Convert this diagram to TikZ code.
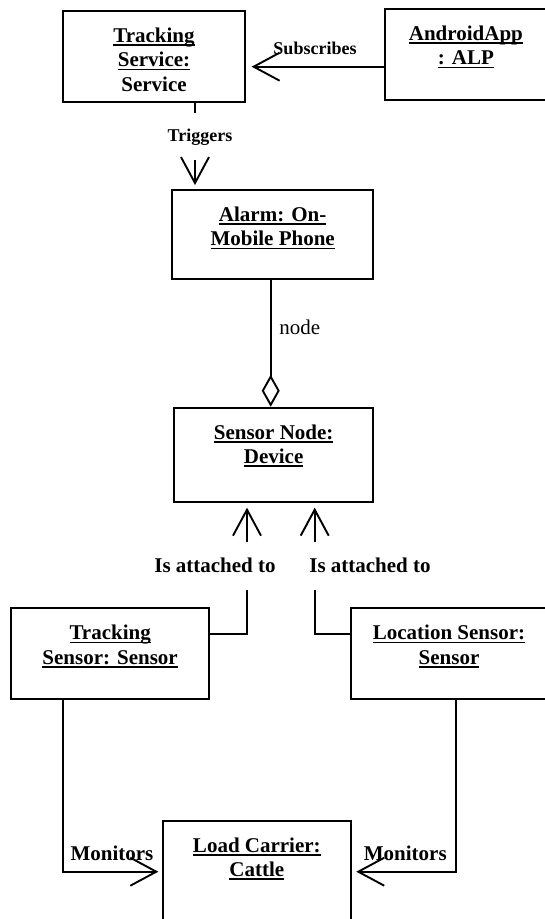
\documentclass[tikz,border=0pt]{standalone}
\usepackage{fontspec}
\setmainfont{Liberation Serif}
\newcommand\myul[1]{\leavevmode\setbox0\hbox{#1}\rlap{\rule[-3.5pt]{\wd0}{1.6pt}}\box0}
\usetikzlibrary{arrows.meta}
\begin{document}
\begin{tikzpicture}[x=1pt,y=-1pt,line width=1.9pt,
  box/.style={draw,rectangle,inner sep=0pt,line width=1.9pt},
  txt/.style={align=center,inner sep=0pt,anchor=north,font=\fontsize{21}{24.5}\selectfont\bfseries},
  lab/.style={inner sep=0pt,anchor=base,font=\fontsize{21}{24.5}\selectfont\bfseries},
  slab/.style={inner sep=0pt,anchor=base,font=\fontsize{18}{21}\selectfont\bfseries},
  plab/.style={inner sep=0pt,anchor=base,font=\fontsize{21}{24.5}\selectfont},
  barb/.style={-{Straight Barb[length=26pt,width=28pt]}},
  agg/.style={-{Diamond[open,length=32pt,width=18pt]}}]
\useasboundingbox (0,0) rectangle (544,919);

% boxes
\node[box,minimum width=182.6pt,minimum height=91.3pt] (ts) at (154,56.7) {};
\node[box,minimum width=162.3pt,minimum height=90.7pt] (aa) at (465.9,54.35) {};
\node[box,minimum width=200.7pt,minimum height=89.3pt] (al) at (272.65,234.65) {};
\node[box,minimum width=198.7pt,minimum height=94.6pt] (sn) at (273.65,455) {};
\node[box,minimum width=198.3pt,minimum height=91pt] (tsn) at (110.15,653.8) {};
\node[box,minimum width=196pt,minimum height=91pt] (ls) at (449,653.8) {};
\node[box,minimum width=188.3pt,minimum height=104.3pt] (lc) at (256.85,872.85) {};

% box texts
\node[txt] (tsT) at ([yshift=-16.8pt]ts.north) {\myul{Tracking}\\\myul{Service:}\\Service};
\node[txt] (aaT) at ([yshift=-16.8pt]aa.north) {\myul{AndroidApp}\\\myul{: ALP}};
\node[txt] (alT) at ([yshift=-16.8pt]al.north) {\myul{Alarm: On-}\\\myul{Mobile Phone}};
\node[txt] (snT) at ([yshift=-16.8pt]sn.north) {\myul{Sensor Node:}\\\myul{Device}};
\node[txt] (tsnT) at ([yshift=-16.8pt]tsn.north) {\myul{Tracking}\\\myul{Sensor: Sensor}};
\node[txt] (lsT) at ([yshift=-16.8pt]ls.north) {\myul{Location Sensor:}\\\myul{Sensor}};
\node[txt] (lcT) at ([yshift=-16.8pt]lc.north) {\myul{Load Carrier:}\\\myul{Cattle}};

% coordinates
\coordinate (subTip) at (250.7,66.7);
\coordinate (tx) at (195,0);
\coordinate (trgA) at (195,113);
\coordinate (trgB) at (195,160);
\coordinate (ax) at (270.7,0);
\coordinate (lbend) at (247,634);
\coordinate (lup) at (247,590);
\coordinate (larr) at (247,542.3);
\coordinate (rbend) at (314.7,634);
\coordinate (rup) at (314.7,590);
\coordinate (rarr) at (314.7,542.3);
\coordinate (mlb) at (62.7,871.7);
\coordinate (mrb) at (456.3,871.7);

% connectors
\draw[barb,shorten >=5.4pt] (aa.west |- subTip) -- (ts.east |- subTip);
\draw (ts.south -| tx) -- (trgA);
\draw[barb,shorten >=4pt] (trgB) -- (al.north -| tx);
\draw[agg] (al.south -| ax) -- (sn.north -| ax);
\draw (tsn.east |- lbend) -- (lbend) -- (lup);
\draw[barb,shorten >=4.4pt] (larr) -- (sn.south -| larr);
\draw (ls.west |- rbend) -- (rbend) -- (rup);
\draw[barb,shorten >=4.4pt] (rarr) -- (sn.south -| rarr);
\draw[barb,shorten >=3.4pt] (tsn.south -| mlb) -- (mlb) -- (lc.west |- mlb);
\draw[barb,shorten >=4.3pt] (ls.south -| mrb) -- (mrb) -- (lc.east |- mrb);

% connector labels
\node[slab] (lSub) at (315,54.3) {Subscribes};
\node[slab] (lTrg) at (200,141.7) {Triggers};
\node[plab] (lNode) at (299.7,334) {node};
\node[lab] (lAt1) at (215,572.7) {Is attached to};
\node[lab] (lAt2) at (370,572.7) {Is attached to};
\node[lab] (lMon1) at (112,860) {Monitors};
\node[lab] (lMon2) at (405.3,860) {Monitors};
\end{tikzpicture}
\end{document}
